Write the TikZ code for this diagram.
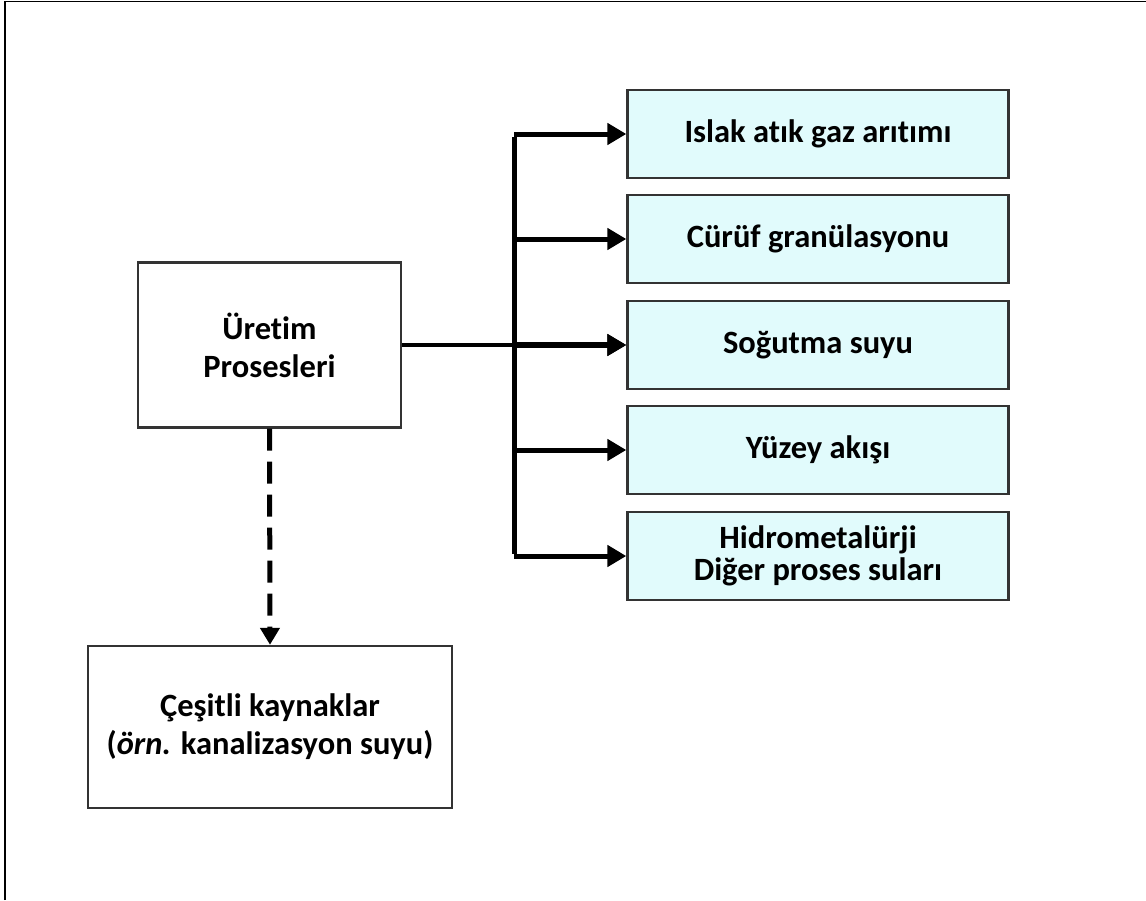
\documentclass[tikz,border=0pt]{standalone}
\usepackage{fontspec}
\setmainfont{Carlito}[Ligatures=NoCommon]
\usetikzlibrary{arrows.meta}
\definecolor{boxfill}{HTML}{E1FBFC}
\definecolor{boxline}{HTML}{333333}
\begin{document}
\begin{tikzpicture}[x=1pt,y=-1pt,
  base/.style={draw=boxline, line width=2.4pt, inner sep=0pt, align=center,
    font=\fontsize{32.5}{38}\selectfont\bfseries},
  srcbox/.style={base, fill=white},
  outbox/.style={base, fill=boxfill, minimum width=381pt, minimum height=88pt},
  tip/.style={-{Triangle[length=19pt,width=21pt]}},
  flow/.style={line width=5pt, tip},
  trunk/.style={line width=5pt}]
\useasboundingbox (0,0) rectangle (1146,900);
% frame lines
\draw[line width=1.8pt] (5,900) -- (5,1.5) -- (1146,1.5);

% source boxes
\node[srcbox, minimum width=263pt, minimum height=165pt] (uretim) at (269.5,345) {Üretim\\Prosesleri};
\node[srcbox, minimum width=364pt, minimum height=162pt] (cesitli) at (270,727) {Çeşitli kaynaklar\\(\textit{örn.} kanalizasyon suyu)};

% output boxes
\node[outbox] (b1) at (818,134) {Islak atık gaz arıtımı};
\node[outbox] (b2) at (818,239) {Cürüf granülasyonu};
\node[outbox] (b3) at (818,345) {Soğutma suyu};
\node[outbox] (b4) at (818,450) {Yüzey akışı};
\node[outbox, font=\fontsize{32.5}{32}\selectfont\bfseries] (b5) at (818,556) {Hidrometalürji\\Diğer proses suları};

% distribution trunk
\coordinate (ttop) at (514,134);
\coordinate (tbot) at (514,556);
\draw[trunk] ([yshift=-2.5pt]ttop) -- ([yshift=2.5pt]tbot);
\draw[line width=4pt, tip] (uretim.east) -- (b3.west);
\draw[flow] (ttop) -- (b1.west);
\draw[flow] (514,239) -- (b2.west);
\draw[line width=6.5pt, tip] (514,345) -- (b3.west);
\draw[flow] (514,450) -- (b4.west);
\draw[flow] (tbot) -- (b5.west);

% dashed link
\draw[line width=5pt, dash pattern=on 22pt off 11pt, -{Triangle[length=17pt,width=19pt]}] (uretim.south) -- (cesitli.north);
\end{tikzpicture}
\end{document}
